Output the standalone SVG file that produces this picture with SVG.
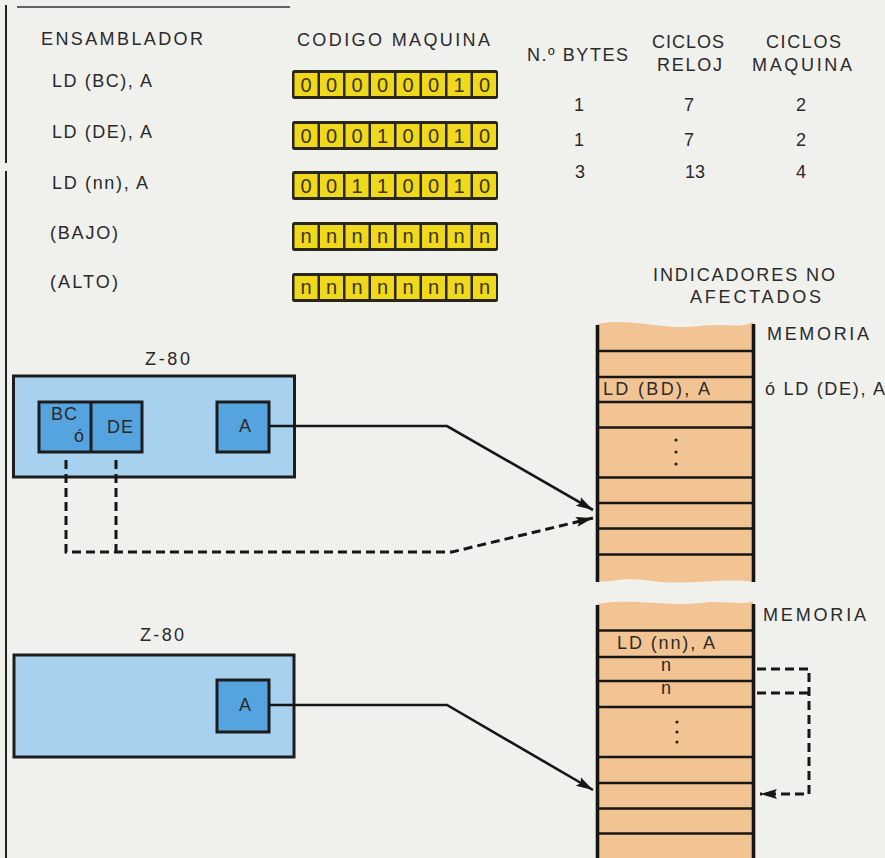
<svg xmlns="http://www.w3.org/2000/svg" width="885" height="858" viewBox="0 0 885 858">
<defs>
<style>
text{font-family:"Liberation Sans",Arial,sans-serif;fill:#2a2a2a;}
.h{font-size:18px;}
.t{font-size:18px;}
.d{font-size:20px;fill:#3a3412;text-anchor:middle;}
.bo{fill:#2a2618;}
.cell{fill:#f0d81c;}
.cpu{fill:#a8d0ef;stroke:#1c1c1c;stroke-width:3;}
.reg{fill:#56a4df;stroke:#1c1c1c;stroke-width:3;}
.peach{fill:#f2c493;}
.ml{stroke:#161616;stroke-width:2.6;}
.mv{stroke:#161616;stroke-width:3.6;}
.con{fill:none;stroke:#161616;stroke-width:2.6;}
.dash{fill:none;stroke:#161616;stroke-width:3;stroke-dasharray:9 5;}
</style>
<marker id="ah" markerUnits="userSpaceOnUse" markerWidth="18" markerHeight="12" refX="17" refY="6" orient="auto">
<path d="M0,1 L17,6 L0,11 L3,6 z" fill="#161616"/>
</marker>
<g id="cellrow">
<rect x="0" y="0" width="206" height="29" rx="2.5" class="bo"/>
<rect x="2.5" y="3" width="23" height="23" class="cell"/>
<rect x="28" y="3" width="23" height="23" class="cell"/>
<rect x="53.5" y="3" width="23" height="23" class="cell"/>
<rect x="79" y="3" width="23" height="23" class="cell"/>
<rect x="104.5" y="3" width="23" height="23" class="cell"/>
<rect x="130" y="3" width="23" height="23" class="cell"/>
<rect x="155.5" y="3" width="23" height="23" class="cell"/>
<rect x="181" y="3" width="23" height="23" class="cell"/>
</g>
</defs>
<rect width="885" height="858" fill="#f0f0ed"/>
<g id="frame">
<line x1="6" y1="5" x2="6" y2="163" stroke="#222" stroke-width="2"/>
<line x1="6" y1="171" x2="6" y2="858" stroke="#222" stroke-width="2"/>
<line x1="17" y1="7" x2="290" y2="7" stroke="#333" stroke-width="1.6"/>
</g>
<g id="table-left">
<text class="h" x="41" y="45" textLength="162">ENSAMBLADOR</text>
<text class="t" x="52" y="87" textLength="100">LD (BC), A</text>
<text class="t" x="52" y="138" textLength="100">LD (DE), A</text>
<text class="t" x="52" y="189" textLength="96">LD (nn), A</text>
<text class="t" x="50" y="239" textLength="68">(BAJO)</text>
<text class="t" x="50" y="288" textLength="68">(ALTO)</text>
</g>
<g id="table-code">
<text class="h" x="297" y="46" textLength="193">CODIGO MAQUINA</text>
<g id="byte1" transform="translate(292,70)">
<use href="#cellrow"/>
<text class="d" x="14" y="22">0</text><text class="d" x="39.5" y="22">0</text><text class="d" x="65" y="22">0</text><text class="d" x="90.5" y="22">0</text><text class="d" x="116" y="22">0</text><text class="d" x="141.5" y="22">0</text><text class="d" x="167" y="22">1</text><text class="d" x="192.5" y="22">0</text>
</g>
<g id="byte2" transform="translate(292,121)">
<use href="#cellrow"/>
<text class="d" x="14" y="22">0</text><text class="d" x="39.5" y="22">0</text><text class="d" x="65" y="22">0</text><text class="d" x="90.5" y="22">1</text><text class="d" x="116" y="22">0</text><text class="d" x="141.5" y="22">0</text><text class="d" x="167" y="22">1</text><text class="d" x="192.5" y="22">0</text>
</g>
<g id="byte3" transform="translate(292,171)">
<use href="#cellrow"/>
<text class="d" x="14" y="22">0</text><text class="d" x="39.5" y="22">0</text><text class="d" x="65" y="22">1</text><text class="d" x="90.5" y="22">1</text><text class="d" x="116" y="22">0</text><text class="d" x="141.5" y="22">0</text><text class="d" x="167" y="22">1</text><text class="d" x="192.5" y="22">0</text>
</g>
<g id="byte4" transform="translate(292,222)">
<use href="#cellrow"/>
<text class="d" x="14" y="21">n</text><text class="d" x="39.5" y="21">n</text><text class="d" x="65" y="21">n</text><text class="d" x="90.5" y="21">n</text><text class="d" x="116" y="21">n</text><text class="d" x="141.5" y="21">n</text><text class="d" x="167" y="21">n</text><text class="d" x="192.5" y="21">n</text>
</g>
<g id="byte5" transform="translate(292,273)">
<use href="#cellrow"/>
<text class="d" x="14" y="21">n</text><text class="d" x="39.5" y="21">n</text><text class="d" x="65" y="21">n</text><text class="d" x="90.5" y="21">n</text><text class="d" x="116" y="21">n</text><text class="d" x="141.5" y="21">n</text><text class="d" x="167" y="21">n</text><text class="d" x="192.5" y="21">n</text>
</g>
</g>
<g id="table-right">
<text class="h" x="527" y="61" textLength="101">N.º BYTES</text>
<text class="h" x="652" y="48" textLength="72">CICLOS</text>
<text class="h" x="657" y="71" textLength="65">RELOJ</text>
<text class="h" x="766" y="48" textLength="75">CICLOS</text>
<text class="h" x="752" y="71" textLength="100">MAQUINA</text>
<text class="h" x="579" y="111" text-anchor="middle">1</text>
<text class="h" x="689" y="111" text-anchor="middle">7</text>
<text class="h" x="801" y="111" text-anchor="middle">2</text>
<text class="h" x="579" y="146" text-anchor="middle">1</text>
<text class="h" x="689" y="146" text-anchor="middle">7</text>
<text class="h" x="801" y="146" text-anchor="middle">2</text>
<text class="h" x="580" y="178" text-anchor="middle">3</text>
<text class="h" x="695" y="178" text-anchor="middle">13</text>
<text class="h" x="801" y="178" text-anchor="middle">4</text>
<text class="h" x="653" y="281" textLength="182">INDICADORES NO</text>
<text class="h" x="690" y="303" textLength="131">AFECTADOS</text>
</g>
<g id="memory1">
<path class="peach" d="M597,324 C630,317 665,331 700,326 C725,323 740,329 753,322 L753,582 C720,577 685,587 645,580 C622,577 607,583 597,581 Z"/>
<line class="ml" x1="597" y1="351" x2="753" y2="351"/>
<line class="ml" x1="597" y1="377" x2="753" y2="377"/>
<line class="ml" x1="597" y1="402" x2="753" y2="402"/>
<line class="ml" x1="597" y1="427.5" x2="753" y2="427.5"/>
<line class="ml" x1="597" y1="477.5" x2="753" y2="477.5"/>
<line class="ml" x1="597" y1="503" x2="753" y2="503"/>
<line class="ml" x1="597" y1="528.5" x2="753" y2="528.5"/>
<line class="ml" x1="597" y1="554.5" x2="753" y2="554.5"/>
<line class="mv" x1="597.5" y1="325" x2="597.5" y2="582"/>
<line class="mv" x1="753.5" y1="324" x2="753.5" y2="582"/>
<circle cx="676" cy="440" r="1.6" fill="#222"/>
<circle cx="676" cy="452" r="1.6" fill="#222"/>
<circle cx="676" cy="464" r="1.6" fill="#222"/>
<text class="h" x="603" y="395" textLength="107">LD (BD), A</text>
<text class="h" x="767" y="340" textLength="102">MEMORIA</text>
<text class="h" x="765" y="395" textLength="120">ó LD (DE), A</text>
</g>
<g id="memory2">
<path class="peach" d="M597,604 C630,598 665,607 700,603 C725,600 740,606 753,601 L753,858 L597,858 Z"/>
<line class="ml" x1="597" y1="630.5" x2="753" y2="630.5"/>
<line class="ml" x1="597" y1="657" x2="753" y2="657"/>
<line class="ml" x1="597" y1="681" x2="753" y2="681"/>
<line class="ml" x1="597" y1="707" x2="753" y2="707"/>
<line class="ml" x1="597" y1="757" x2="753" y2="757"/>
<line class="ml" x1="597" y1="783" x2="753" y2="783"/>
<line class="ml" x1="597" y1="808.5" x2="753" y2="808.5"/>
<line class="ml" x1="597" y1="833.5" x2="753" y2="833.5"/>
<line class="mv" x1="597.5" y1="605" x2="597.5" y2="858"/>
<line class="mv" x1="753.5" y1="604" x2="753.5" y2="858"/>
<circle cx="677" cy="722" r="1.6" fill="#222"/>
<circle cx="677" cy="732" r="1.6" fill="#222"/>
<circle cx="677" cy="742" r="1.6" fill="#222"/>
<text class="h" x="617" y="649" textLength="98">LD (nn), A</text>
<text class="h" x="666" y="671" text-anchor="middle">n</text>
<text class="h" x="666" y="694" text-anchor="middle">n</text>
<text class="h" x="763" y="621" textLength="103">MEMORIA</text>
</g>
<g id="cpu1">
<text class="h" x="145" y="365" textLength="45">Z-80</text>
<rect class="cpu" x="13.5" y="376" width="281" height="101"/>
<g id="reg-bcde">
<rect class="reg" x="39" y="402" width="103" height="50"/>
<line x1="91" y1="402" x2="91" y2="452" stroke="#1c1c1c" stroke-width="3"/>
<text class="t" x="51" y="420" textLength="26">BC</text>
<text class="t" x="74" y="442">ó</text>
<text class="t" x="107" y="433" textLength="26">DE</text>
</g>
<g id="reg-a1">
<rect class="reg" x="217" y="402" width="52" height="50"/>
<text class="h" x="245" y="432" text-anchor="middle">A</text>
</g>
</g>
<g id="cpu2">
<text class="h" x="140" y="641" textLength="44">Z-80</text>
<rect class="cpu" x="14" y="655" width="280" height="102"/>
<g id="reg-a2">
<rect class="reg" x="217" y="680" width="52" height="52"/>
<text class="h" x="245" y="711" text-anchor="middle">A</text>
</g>
</g>
<g id="connectors">
<path class="con" d="M269,426 H447 L593,510" marker-end="url(#ah)"/>
<path class="dash" d="M66,460 V552 H452 L593,518" marker-end="url(#ah)"/>
<path class="dash" d="M116,460 V552"/>
<path class="con" d="M269,705 H447 L593,790" marker-end="url(#ah)"/>
<path class="dash" d="M757,669 H809 V794 H760" marker-end="url(#ah)"/>
<path class="dash" d="M757,693 H809"/>
</g>
</svg>
